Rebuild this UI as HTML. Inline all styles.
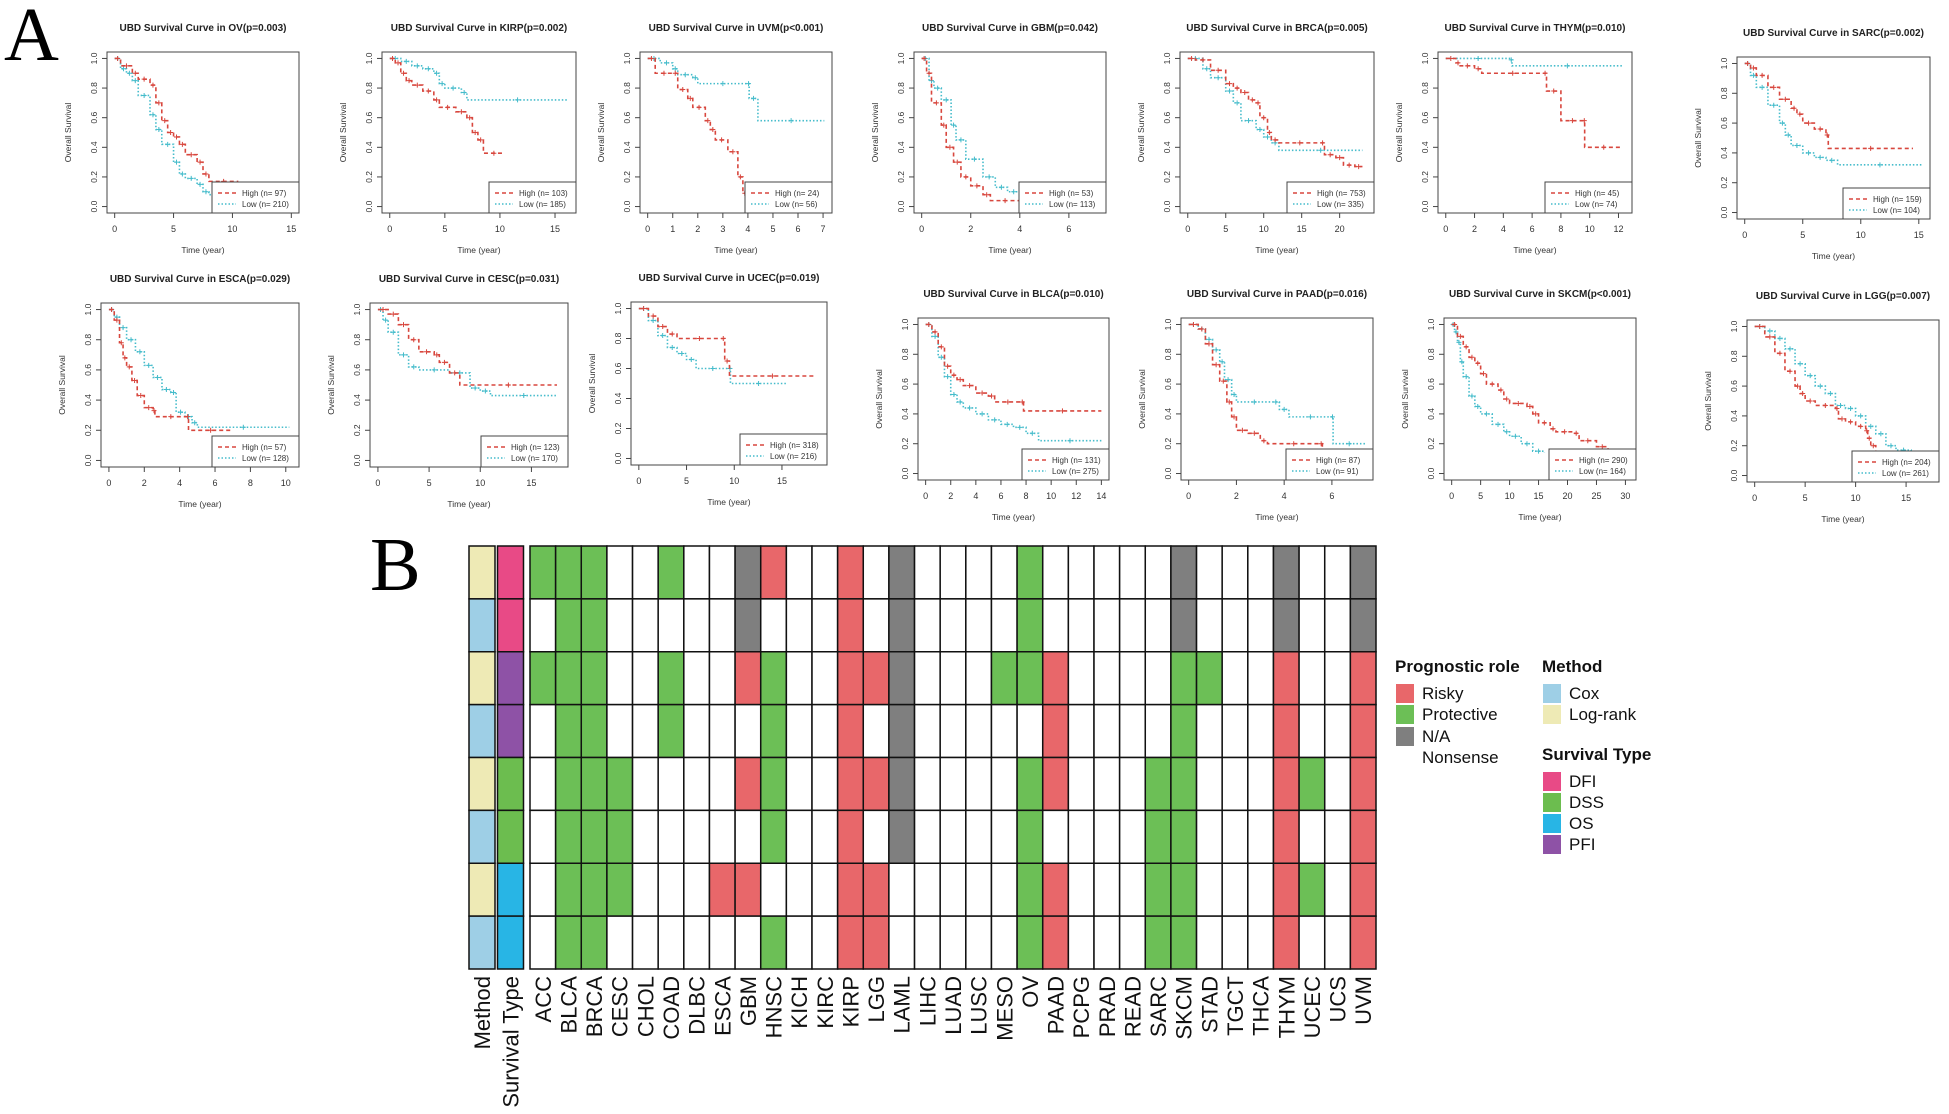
<!DOCTYPE html>
<html><head><meta charset="utf-8"><style>
body{margin:0;background:#fff;}
svg{display:block;font-family:"Liberation Sans",Arial,sans-serif;}
</style></head><body>
<svg id="fig" width="1949" height="1114" viewBox="0 0 1949 1114" xmlns="http://www.w3.org/2000/svg">
<text x="4" y="60" font-family="Liberation Serif,serif" font-size="76">A</text>
<text x="370" y="590" font-family="Liberation Serif,serif" font-size="76">B</text>
<g id="km"></g>
<g id="hm"></g>
<g id="lg"></g>
</svg>
<script>
// ---------- Survival curve data (time in years, survival probability) ----------
const OV_high=[[0,1],[0.5,0.95],[1.5,0.9],[2,0.86],[3,0.82],[3.5,0.7],[4,0.58],[4.5,0.5],[5,0.47],[5.5,0.42],[6,0.35],[7,0.3],[7.5,0.22],[8,0.17],[10.5,0.17]];
const OV_low=[[0,1],[0.5,0.93],[1,0.9],[1.5,0.85],[2,0.75],[3,0.62],[3.5,0.52],[4,0.42],[5,0.3],[5.5,0.22],[6,0.19],[7,0.15],[7.5,0.1],[8,0.08],[9,0.06],[10.5,0.06]];
const KIRP_high=[[0,1],[0.5,0.97],[1,0.9],[1.5,0.85],[2,0.82],[3,0.78],[4,0.72],[4.5,0.67],[6,0.64],[7,0.6],[7.5,0.5],[8,0.45],[8.5,0.36],[10.4,0.36]];
const KIRP_low=[[0,1],[1,0.98],[2,0.95],[3,0.93],[4,0.9],[4.5,0.83],[5,0.8],[6.5,0.77],[7,0.72],[16.2,0.72]];
const UVM_high=[[0,1],[0.3,0.9],[1,0.9],[1.2,0.79],[1.6,0.73],[1.8,0.67],[2.3,0.58],[2.5,0.52],[2.7,0.45],[3.2,0.37],[3.6,0.2],[3.8,0.09],[3.95,0.09]];
const UVM_low=[[0,1],[0.5,0.97],[1,0.93],[1.2,0.89],[1.8,0.87],[2,0.83],[4,0.83],[4.05,0.73],[4.4,0.58],[7.05,0.58]];
const GBM_high=[[0,1],[0.2,0.9],[0.4,0.7],[0.8,0.55],[1,0.4],[1.3,0.3],[1.6,0.2],[2,0.14],[2.5,0.08],[2.8,0.04],[4,0.04]];
const GBM_low=[[0,1],[0.3,0.85],[0.5,0.8],[0.8,0.72],[1.2,0.55],[1.4,0.45],[1.8,0.32],[2.5,0.2],[3,0.13],[3.5,0.1],[4,0.07],[4.6,0.07]];
const BRCA_high=[[0,1],[1,0.99],[3,0.92],[5,0.83],[6,0.8],[7,0.77],[8,0.72],[9,0.7],[9.5,0.6],[10.5,0.5],[11,0.45],[12,0.43],[17.5,0.43],[18,0.35],[19.5,0.33],[20.5,0.28],[22,0.27],[23,0.27]];
const BRCA_low=[[0,1],[2,0.93],[3,0.87],[5,0.78],[6,0.7],[7,0.58],[9,0.52],[10,0.47],[11,0.43],[12,0.38],[23,0.38]];
const THYM_high=[[0,1],[0.7,0.97],[1,0.95],[2,0.93],[2.5,0.9],[6.8,0.9],[7,0.78],[8,0.58],[9.6,0.58],[9.65,0.4],[12.3,0.4]];
const THYM_low=[[0,1],[4.5,0.99],[4.6,0.95],[12.3,0.95]];
const SARC_high=[[0,1],[0.5,0.97],[1,0.92],[2,0.84],[3,0.76],[4,0.7],[4.5,0.66],[5,0.6],[6,0.56],[7,0.52],[7.2,0.43],[14.5,0.43]];
const SARC_low=[[0,1],[0.5,0.92],[1,0.84],[2,0.72],[3,0.6],[3.5,0.52],[4,0.45],[5,0.4],[6,0.37],[7,0.35],[8,0.32],[15.3,0.32]];
const ESCA_high=[[0,1],[0.3,0.93],[0.6,0.78],[0.8,0.68],[1,0.62],[1.3,0.53],[1.6,0.43],[2,0.35],[2.5,0.33],[2.6,0.29],[4.4,0.29],[4.5,0.2],[7,0.2]];
const ESCA_low=[[0,1],[0.3,0.95],[0.6,0.88],[1,0.8],[1.5,0.72],[2,0.63],[2.5,0.55],[3,0.47],[3.5,0.45],[3.8,0.32],[4.3,0.29],[4.7,0.25],[5,0.22],[10.2,0.22]];
const CESC_high=[[0,1],[1,0.97],[2,0.9],[3,0.8],[4,0.72],[5.5,0.7],[6,0.65],[7,0.58],[8,0.5],[17.5,0.5]];
const CESC_low=[[0,1],[0.5,0.93],[1,0.85],[2,0.7],[3,0.62],[4,0.6],[7,0.58],[9,0.48],[10,0.46],[11,0.43],[17.5,0.43]];
const UCEC_high=[[0,1],[1,0.95],[2,0.88],[3,0.83],[4,0.8],[8.7,0.8],[9,0.65],[9.5,0.55],[18.5,0.55]];
const UCEC_low=[[0,1],[1,0.92],[2,0.82],[3,0.74],[4,0.7],[5,0.66],[6,0.6],[9.5,0.6],[9.6,0.5],[15.5,0.5]];
const BLCA_high=[[0,1],[0.5,0.95],[1,0.85],[1.5,0.72],[2,0.66],[2.5,0.63],[3,0.59],[4,0.54],[5,0.52],[5.5,0.48],[7.6,0.48],[7.8,0.42],[14,0.42]];
const BLCA_low=[[0,1],[0.5,0.92],[1,0.78],[1.5,0.65],[2,0.53],[2.5,0.48],[3,0.44],[4,0.4],[5,0.36],[6,0.33],[7,0.31],[8,0.27],[9,0.22],[14,0.22]];
const PAAD_high=[[0,1],[0.4,0.97],[0.7,0.87],[1,0.73],[1.3,0.62],[1.6,0.48],[1.8,0.38],[2,0.29],[2.5,0.27],[3,0.22],[3.3,0.2],[5.5,0.2],[5.6,0.17]];
const PAAD_low=[[0,1],[0.4,0.97],[0.7,0.9],[1,0.83],[1.3,0.75],[1.5,0.63],[1.8,0.53],[2,0.48],[3.5,0.48],[3.8,0.43],[4.2,0.38],[6,0.38],[6.05,0.2],[7.4,0.19]];
const SKCM_high=[[0,1],[1,0.92],[2,0.85],[3,0.78],[4,0.74],[5,0.67],[6,0.6],[8,0.56],[9,0.5],[10,0.47],[13,0.45],[14,0.4],[15,0.34],[17,0.3],[18,0.28],[21,0.27],[22,0.22],[25,0.18],[27,0.15],[28,0.15]];
const SKCM_low=[[0,1],[0.5,0.95],[1,0.88],[1.5,0.75],[2,0.65],[3,0.52],[4,0.45],[5,0.4],[7,0.33],[9,0.28],[10,0.25],[12,0.2],[14,0.15],[16,0.14]];
const LGG_high=[[0,1],[1,0.93],[2,0.82],[3,0.7],[4,0.6],[4.5,0.55],[5,0.5],[6,0.47],[8,0.45],[8.3,0.38],[9,0.36],[10,0.33],[11,0.3],[11.2,0.25],[11.5,0.2],[12,0.15],[13,0.15]];
const LGG_low=[[0,1],[1,0.97],[2,0.92],[3,0.85],[4,0.75],[5,0.67],[6,0.6],[7,0.55],[8,0.47],[9,0.45],[10,0.4],[11,0.33],[12,0.28],[13,0.2],[14,0.17],[15.5,0.15]];

const cancerNames=["OV","KIRP","UVM","GBM","BRCA","THYM","SARC","ESCA","CESC","UCEC","BLCA","PAAD","SKCM","LGG"];
const pLabels=["p=0.003","p=0.002","p<0.001","p=0.042","p=0.005","p=0.010","p=0.002","p=0.029","p=0.031","p=0.019","p=0.010","p=0.016","p<0.001","p=0.007"];
const nHigh=[97,103,24,53,753,45,159,57,123,318,131,87,290,204];
const nLow=[210,185,56,113,335,74,104,128,170,216,275,91,164,261];
const xMaxes=[15,16.2,7.05,7.2,23.5,12.4,15.3,10.3,17.8,18.9,14,7.4,30.5,17.5];
const tickSteps=[5,5,1,2,5,2,5,2,5,5,2,2,5,5];
const tickMaxes=[15,15,7,6,20,12,15,10,15,15,14,6,30,15];
const highSeries=[OV_high,KIRP_high,UVM_high,GBM_high,BRCA_high,THYM_high,SARC_high,ESCA_high,CESC_high,UCEC_high,BLCA_high,PAAD_high,SKCM_high,LGG_high];
const lowSeries=[OV_low,KIRP_low,UVM_low,GBM_low,BRCA_low,THYM_low,SARC_low,ESCA_low,CESC_low,UCEC_low,BLCA_low,PAAD_low,SKCM_low,LGG_low];
const yTicks=[0,0.2,0.4,0.6,0.8,1.0];

// ---------- Heatmap data ----------
const cancers=["ACC","BLCA","BRCA","CESC","CHOL","COAD","DLBC","ESCA","GBM","HNSC","KICH","KIRC","KIRP","LGG","LAML","LIHC","LUAD","LUSC","MESO","OV","PAAD","PCPG","PRAD","READ","SARC","SKCM","STAD","TGCT","THCA","THYM","UCEC","UCS","UVM"];
const rowMethods=["Log-rank","Cox","Log-rank","Cox","Log-rank","Cox","Log-rank","Cox"];
const rowSurvival=["DFI","DFI","PFI","PFI","DSS","DSS","OS","OS"];
// P=Protective R=Risky N=N/A, others Nonsense
const roleRow1={ACC:"P",BLCA:"P",BRCA:"P",COAD:"P",GBM:"N",HNSC:"R",KIRP:"R",LAML:"N",OV:"P",SKCM:"N",THYM:"N",UVM:"N"};
const roleRow2={BLCA:"P",BRCA:"P",GBM:"N",KIRP:"R",LAML:"N",OV:"P",SKCM:"N",THYM:"N",UVM:"N"};
const roleRow3={ACC:"P",BLCA:"P",BRCA:"P",COAD:"P",GBM:"R",HNSC:"P",KIRP:"R",LGG:"R",LAML:"N",MESO:"P",OV:"P",PAAD:"R",SKCM:"P",STAD:"P",THYM:"R",UVM:"R"};
const roleRow4={BLCA:"P",BRCA:"P",COAD:"P",HNSC:"P",KIRP:"R",LAML:"N",PAAD:"R",SKCM:"P",THYM:"R",UVM:"R"};
const roleRow5={BLCA:"P",BRCA:"P",CESC:"P",GBM:"R",HNSC:"P",KIRP:"R",LGG:"R",LAML:"N",OV:"P",PAAD:"R",SARC:"P",SKCM:"P",THYM:"R",UCEC:"P",UVM:"R"};
const roleRow6={BLCA:"P",BRCA:"P",CESC:"P",HNSC:"P",KIRP:"R",LAML:"N",OV:"P",SARC:"P",SKCM:"P",THYM:"R",UVM:"R"};
const roleRow7={BLCA:"P",BRCA:"P",CESC:"P",ESCA:"R",GBM:"R",KIRP:"R",LGG:"R",OV:"P",PAAD:"R",SARC:"P",SKCM:"P",THYM:"R",UCEC:"P",UVM:"R"};
const roleRow8={BLCA:"P",BRCA:"P",HNSC:"P",KIRP:"R",LGG:"R",OV:"P",PAAD:"R",SARC:"P",SKCM:"P",THYM:"R",UVM:"R"};
const roleRows=[roleRow1,roleRow2,roleRow3,roleRow4,roleRow5,roleRow6,roleRow7,roleRow8];

// ---------- Layout ----------
const NS="http://www.w3.org/2000/svg";
function mk(tag,attrs,parent){const e=document.createElementNS(NS,tag);for(const k in attrs)e.setAttribute(k,attrs[k]);parent.appendChild(e);return e;}
const boxes=[[107,52,299,213],[382,52,576,213],[640,52,832,213],[914,52,1106,213],[1180,52,1374,213],[1438,52,1632,213],[1737,57,1930,219],
[101,303,299,467],[370,303,568,467],[631,302,827,465],[918,318,1109,480],[1181,318,1373,480],[1444,318,1636,480],[1747,320,1939,482]];
const HIGHC="#d8473e",LOWC="#45bccb";
const km=document.getElementById('km');
boxes.forEach((b,i)=>{
  const [x0,y0,x1,y1]=b;const w=x1-x0,h=y1-y0;
  const xs=t=>x0+w*0.04+t/xMaxes[i]*w*0.92;
  const ys=s=>y1-h*0.04-s*h*0.92;
  const g=mk('g',{},km);
  
  
  const tt=mk('text',{x:(x0+x1)/2,y:y0-21,'text-anchor':'middle','font-size':10,'font-weight':'bold',fill:'#222'},g);
  tt.textContent='UBD Survival Curve in '+cancerNames[i]+'('+pLabels[i]+')';
  
  
  const fr=mk('rect',{x:x0,y:y0,width:w,height:h,fill:'none',stroke:'#444','stroke-width':1},g);
  
  
  // y axis
  yTicks.forEach(v=>{
    const y=ys(v);
    mk('line',{x1:x0,x2:x0-5,y1:y,y2:y,stroke:'#444'},g);
    const t=mk('text',{x:x0-10,y:y,'text-anchor':'middle','font-size':8.5,fill:'#333',transform:`rotate(-90 ${x0-10} ${y})`},g);
    t.textContent=v.toFixed(1);
    
    
  });
  const yl=mk('text',{x:x0-36,y:(y0+y1)/2,'text-anchor':'middle','font-size':8.5,fill:'#333',transform:`rotate(-90 ${x0-36} ${(y0+y1)/2})`},g);
  yl.textContent='Overall Survival';
  
  
  // x axis
  for(let v=0;v<=tickMaxes[i]+1e-9;v+=tickSteps[i]){
    const x=xs(v);
    mk('line',{x1:x,x2:x,y1:y1,y2:y1+5,stroke:'#444'},g);
    const t=mk('text',{x:x,y:y1+19,'text-anchor':'middle','font-size':9,fill:'#333'},g);
    t.textContent=v;
    
    
  }
  const xl=mk('text',{x:(x0+x1)/2,y:y1+40,'text-anchor':'middle','font-size':8.5,fill:'#333'},g);
  xl.textContent='Time (year)';
  
  
  // curves
  [[lowSeries[i],LOWC,'1.5 2','low'],[highSeries[i],HIGHC,'4 3','high']].forEach(([ser,col,dash,nm])=>{
    let d='M'+xs(ser[0][0])+' '+ys(ser[0][1]);
    for(let k=1;k<ser.length;k++){d+=' H'+xs(ser[k][0])+' V'+ys(ser[k][1]);}
    const p=mk('path',{d:d,fill:'none',stroke:col,'stroke-width':1.6,'stroke-dasharray':dash},g);
    
    
    for(let k=1;k<ser.length;k++){
      const x=xs((ser[k-1][0]+ser[k][0])/2),y=ys(ser[k-1][1]);
      const c=mk('path',{d:`M${x-2.5} ${y}H${x+2.5}M${x} ${y-2.5}V${y+2.5}`,stroke:col,'stroke-width':1},g);
      
      
    }
  });
  // legend
  const lx=x1-87,ly=y1-31;
  const lb=mk('rect',{x:lx,y:ly,width:87,height:31,fill:'#fff',stroke:'#444','stroke-width':1},g);
  
  
  mk('line',{x1:lx+6,x2:lx+24,y1:ly+11,y2:ly+11,stroke:HIGHC,'stroke-width':1.6,'stroke-dasharray':'4 3'},g);
  mk('line',{x1:lx+6,x2:lx+24,y1:ly+22,y2:ly+22,stroke:LOWC,'stroke-width':1.6,'stroke-dasharray':'1.5 2'},g);
  const t1=mk('text',{x:lx+30,y:ly+14,'font-size':8,fill:'#333'},g);t1.textContent='High (n= '+nHigh[i]+')';
  
  
  const t2=mk('text',{x:lx+30,y:ly+25,'font-size':8,fill:'#333'},g);t2.textContent='Low  (n= '+nLow[i]+')';
  
  
});

// ---------- Heatmap ----------
const hm=document.getElementById('hm');
const roleColor={R:"#e8676a",P:"#6cbf56",N:"#7f7f7f"};
const methodColor={"Cox":"#9ecfe6","Log-rank":"#eeeab5"};
const survColor={DFI:"#e84a86",DSS:"#6cbd4f",OS:"#28b5e5",PFI:"#8e52a6"};
const gx0=530,gx1=1376,gy0=546,gy1=969;
const cw=(gx1-gx0)/cancers.length,rh=(gy1-gy0)/rowMethods.length;
rowMethods.forEach((m,r)=>{
  const y=gy0+r*rh;
  const a=mk('rect',{x:469,y:y,width:26,height:rh,fill:methodColor[m],stroke:'#111','stroke-width':1.5},hm);
  
  
  const b=mk('rect',{x:497.5,y:y,width:26,height:rh,fill:survColor[rowSurvival[r]],stroke:'#111','stroke-width':1.5},hm);
  
  
  cancers.forEach((c,j)=>{
    const v=roleRows[r][c];
    const cell=mk('rect',{x:gx0+j*cw,y:y,width:cw,height:rh,fill:v?roleColor[v]:'#fff',stroke:'#111','stroke-width':1.5},hm);
    
    
  });
});
function vlabel(txt,cx,name){
  const t=mk('text',{x:cx,y:976,'text-anchor':'end','font-size':22,fill:'#111',transform:`rotate(-90 ${cx} 976) translate(0 8)`},hm);
  t.textContent=txt;
  
  
}
vlabel('Method',482,'method-axis-label');
vlabel('Survival Type',510.5,'survival-type-axis-label');
cancers.forEach((c,j)=>vlabel(c,gx0+(j+0.5)*cw,'cancer-label'));

// ---------- Legend ----------
const lg=document.getElementById('lg');
function ltitle(txt,x,y){const t=mk('text',{x:x,y:y,'font-size':17,'font-weight':'bold',fill:'#111'},lg);t.textContent=txt;
  
  }
function litem(txt,col,x,y){
  if(col){const r=mk('rect',{x:x,y:y,width:18,height:19,fill:col},lg);
    
    }
  const t=mk('text',{x:x+26,y:y+15,'font-size':17,fill:'#111'},lg);t.textContent=txt;
  
  
}
ltitle('Prognostic role',1395,672);
litem('Risky',roleColor.R,1396,684);
litem('Protective',roleColor.P,1396,705);
litem('N/A',roleColor.N,1396,727);
litem('Nonsense',null,1396,748);
ltitle('Method',1542,672);
litem('Cox',methodColor.Cox,1543,684);
litem('Log-rank',methodColor['Log-rank'],1543,705);
ltitle('Survival Type',1542,760);
litem('DFI',survColor.DFI,1543,772);
litem('DSS',survColor.DSS,1543,793);
litem('OS',survColor.OS,1543,814);
litem('PFI',survColor.PFI,1543,835);
</script>
</body></html>
